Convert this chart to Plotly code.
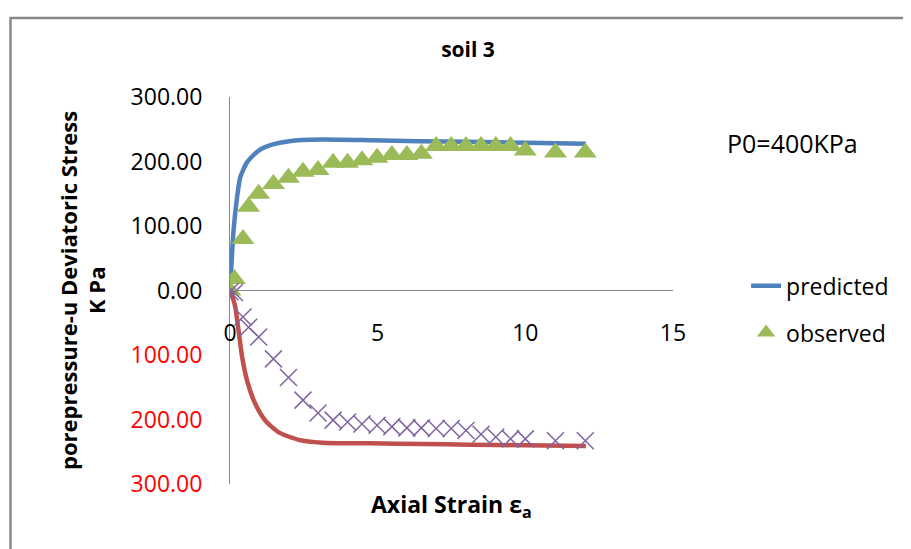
import plotly.graph_objects as go

# ---- data ----
# model prediction (smooth curves)
pred_strain_q = [0, 0.12, 0.24, 0.35, 0.58, 0.97, 1.42, 2.0, 3.1, 4.75, 6.4, 8.1, 10.0, 12.05]
pred_q = [0, 93, 145, 176, 199, 217, 226, 231.5, 234, 233, 231.5, 230.5, 229, 227.5]

pred_strain_u = [0, 0.12, 0.18, 0.29, 0.41, 0.58, 0.86, 1.2, 1.65, 2.33, 3.12, 4.75, 6.5, 8.1, 10.0, 12.05]
pred_u = [0, -15, -26, -62, -103, -140, -176, -202, -220, -231.5, -236, -237, -238, -239, -240, -241]

# observed test data
obs_strain = [0, 0.15, 0.44, 0.63, 0.97, 1.47, 1.98, 2.47, 2.98, 3.49, 3.98, 4.47, 4.98,
              5.48, 5.99, 6.48, 6.98, 7.49, 7.99, 8.5, 9.0, 9.5, 10.0, 11.02, 12.03]
obs_q = [0, 18, 80, 130, 150, 165, 175, 184, 187, 198, 198, 202, 206,
         210, 210, 212, 224, 224, 224, 224, 224, 224, 217, 214, 214]
obs_u = [-2, -3, -41, -57, -72, -106, -135, -170, -190, -201, -204, -207, -209,
         -211, -213, -213, -214, -214, -217, -223, -227, -230, -230, -233, -233]

x_tick_vals = [0, 5, 10, 15]
x_tick_text = ["0", "5", "10", "15"]
y_tick_vals = [300, 200, 100, 0, -100, -200, -300]
y_tick_text = ["300.00", "200.00", "100.00", "0.00",
               '<span style="color:#FF0000">100.00</span>',
               '<span style="color:#FF0000">200.00</span>',
               '<span style="color:#FF0000">300.00</span>']

FONT = "Open Sans"
BLUE = "#4F81BD"
RED = "#C0504D"
GREEN = "#9BBB59"
PURPLE = "#8064A2"

# page has an 8px body margin: figure occupies page pixels 8..911 x 8..549
W, H = 903, 541


def px(X):  # page x pixel -> paper fraction
    return (X - 230) / 443


def py(Y):  # page y pixel -> paper fraction
    return (484 - Y) / 387


fig = go.Figure()
fig.add_trace(go.Scatter(x=pred_strain_q, y=pred_q, mode="lines", name="predicted",
                         line=dict(color=BLUE, width=4.5, shape="spline", smoothing=0.6),
                         legendgroup="a"))
fig.add_trace(go.Scatter(x=obs_strain, y=obs_q, mode="markers", name="observed",
                         marker=dict(symbol="triangle-up", size=20, color=GREEN,
                                     line=dict(width=0)),
                         legendgroup="b"))
fig.add_trace(go.Scatter(x=pred_strain_u, y=pred_u, mode="lines", showlegend=False,
                         line=dict(color=RED, width=4.5, shape="spline", smoothing=0.6)))
fig.add_trace(go.Scatter(x=obs_strain, y=obs_u, mode="markers", showlegend=False,
                         marker=dict(symbol="x-thin-open", size=17, color=PURPLE,
                                     line=dict(width=1.5, color=PURPLE))))

fig.update_layout(
    width=W, height=H,
    margin=dict(l=222, r=238, t=89, b=65),
    paper_bgcolor="white", plot_bgcolor="white",
    font=dict(family=FONT, size=23, color="black"),
    title=dict(text="<b>soil 3</b>", x=(468 - 8) / W, xref="container", xanchor="center",
               y=1 - (50 - 8) / H, yref="container", yanchor="middle",
               font=dict(family=FONT, size=21, color="black")),
    xaxis=dict(range=[0, 15], anchor="free", position=0.5, showline=False,
               showgrid=False, zeroline=False, ticks="",
               tickvals=x_tick_vals, ticktext=x_tick_text,
               tickfont=dict(family=FONT, size=23, color="black"),
               ticklabelstandoff=26),
    yaxis=dict(range=[-300, 300], showline=True, linecolor="#868686", linewidth=1,
               showgrid=False, zeroline=True, zerolinecolor="#868686", zerolinewidth=1,
               ticks="", tickvals=y_tick_vals, ticktext=y_tick_text,
               tickfont=dict(family=FONT, size=23, color="black"),
               ticklabelstandoff=22),
    legend=dict(x=1.165, xanchor="left", y=0.568, yanchor="top",
                font=dict(family=FONT, size=23, color="black"),
                tracegroupgap=14, bgcolor="rgba(0,0,0,0)"),
    showlegend=True,
)

fig.add_annotation(text="P0=400KPa", xref="paper", yref="paper",
                   x=px(725), y=py(143),
                   xanchor="left", yanchor="middle", showarrow=False,
                   font=dict(family=FONT, size=25, color="black"))
fig.add_annotation(text="<b>Axial Strain ε<sub>a</sub></b>", xref="paper", yref="paper",
                   x=px(451.5), y=py(505), xanchor="center", yanchor="middle",
                   showarrow=False, font=dict(family=FONT, size=23, color="black"))
fig.add_annotation(text="<b>porepressure-u Deviatoric Stress</b>",
                   xref="paper", yref="paper", x=px(68), y=py(291),
                   xanchor="center", yanchor="middle", textangle=-90,
                   showarrow=False, font=dict(family=FONT, size=22, color="black"))
fig.add_annotation(text="<b>K Pa</b>",
                   xref="paper", yref="paper", x=px(96), y=py(291),
                   xanchor="center", yanchor="middle", textangle=-90,
                   showarrow=False, font=dict(family=FONT, size=22, color="black"))

fig.add_shape(type="rect", xref="paper", yref="paper",
              x0=px(10.5), x1=1.7, y0=-0.3, y1=py(18),
              line=dict(color="#888888", width=2.5), fillcolor="rgba(0,0,0,0)",
              layer="below")

fig.write_html("out.html")
